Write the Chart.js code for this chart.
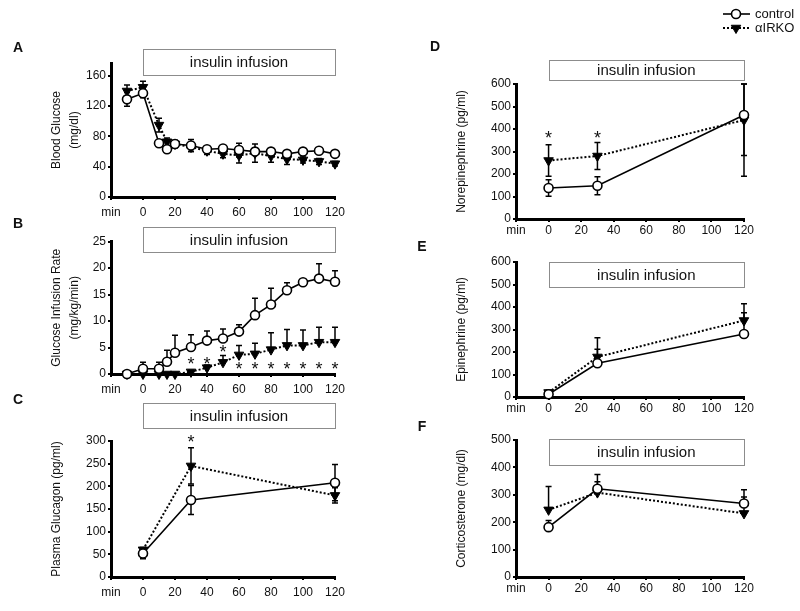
<!DOCTYPE html>
<html>
<head>
<meta charset="utf-8">
<script src="https://cdn.jsdelivr.net/npm/chart.js@4/dist/chart.umd.min.js"></script>
<style>
  body { margin: 0; background: #fff; width: 800px; height: 611px; position: relative; overflow: hidden; }
  canvas { position: absolute; }
</style>
</head>
<body>
<canvas id="pA" width="400" height="205" style="left:0;top:20px"></canvas>
<canvas id="pB" width="400" height="190" style="left:0;top:210px"></canvas>
<canvas id="pC" width="400" height="226" style="left:0;top:385px"></canvas>
<canvas id="pD" width="400" height="240" style="left:400px;top:0"></canvas>
<canvas id="pE" width="400" height="185" style="left:400px;top:235px"></canvas>
<canvas id="pF" width="400" height="196" style="left:400px;top:415px"></canvas>
<script>
// time points (min)
var clampTime = [-10, 0, 10, 15, 20, 30, 40, 50, 60, 70, 80, 90, 100, 110, 120];
var hormoneTime = [0, 30, 120];
var xTickVals = [-20, 0, 20, 40, 60, 80, 100, 120];

// A - blood glucose (mg/dl)
var glucoseCtrl = [129, 137, 71, 63, 70, 68, 63, 64, 62, 60, 60, 57, 60, 61, 57];
var glucoseCtrlErr = [9, 6, 3, 3, 4, 8, 3, 4, 9, 5, 3, 3, 3, 3, 3];
var glucoseKO = [140, 145, 95, 73, 70, 66, 61, 57, 55, 58, 54, 50, 49, 47, 44];
var glucoseKOErr = [8, 8, 9, 5, 5, 6, 5, 5, 10, 12, 8, 7, 4, 4, 3];
var glucoseTicks = [0, 40, 80, 120, 160];

// B - glucose infusion rate (mg/kg/min)
var girCtrl = [0, 1.0, 1.0, 2.3, 4.0, 5.1, 6.3, 6.7, 8.0, 11.1, 13.1, 15.8, 17.3, 18.0, 17.4];
var girCtrlErr = [0, 1.2, 1.2, 2.2, 3.3, 2.3, 1.8, 1.8, 1.3, 3.2, 3.1, 1.4, 0.3, 2.8, 2.1];
var girKO = [0, 0, 0, 0, 0, 0.4, 1.2, 2.2, 3.6, 3.8, 4.6, 5.4, 5.4, 6.0, 6.0];
var girKOErr = [0, 0, 0, 0, 0, 0.3, 0.5, 1.3, 1.8, 2.0, 3.2, 3.0, 2.9, 2.8, 2.8];
var girTicks = [0, 5, 10, 15, 20, 25];
var girStarX = [30, 40, 50, 60, 70, 80, 90, 100, 110, 120];
var girStarY = [2.6, 2.6, 4.9, 1.7, 1.7, 1.7, 1.7, 1.7, 1.7, 1.7];

// C - plasma glucagon (pg/ml)
var glucagonCtrl = [52, 170, 208];
var glucagonCtrlErr = [12, 32, 40];
var glucagonKO = [60, 245, 180];
var glucagonKOErr = [5, 40, 17];
var glucagonTicks = [0, 50, 100, 150, 200, 250, 300];
var glucagonStarX = [30];
var glucagonStarY = [306];

// D - norepinephrine (pg/ml)
var norepiCtrl = [138, 148, 462];
var norepiCtrlErr = [37, 40, 180];
var norepiKO = [260, 280, 440];
var norepiKOErr = [70, 60, 250];
var norepiStarX = [0, 30];
var norepiStarY = [378, 378];

// E - epinephrine (pg/ml)
var epiCtrl = [12, 150, 280];
var epiCtrlErr = [8, 62, 95];
var epiKO = [20, 178, 340];
var epiKOErr = [10, 85, 75];
var catTicks = [0, 100, 200, 300, 400, 500, 600];

// F - corticosterone (mg/dl)
var cortCtrl = [182, 322, 268];
var cortCtrlErr = [24, 52, 50];
var cortKO = [245, 308, 232];
var cortKOErr = [85, 40, 60];
var cortTicks = [0, 100, 200, 300, 400, 500];

var FONT = "'Liberation Sans', Arial, sans-serif";

function pts(xs, ys) {
  return xs.map(function (x, i) { return { x: x, y: ys[i] }; });
}

// error bars, "insulin infusion" box, panel letter, asterisks, legend
var deco = {
  id: 'deco',
  beforeDatasetsDraw: function (chart, args, o) {
    var ctx = chart.ctx, xs = chart.scales.x, ys = chart.scales.y;
    ctx.save();
    ctx.strokeStyle = '#000';
    ctx.lineWidth = 1.5;
    chart.data.datasets.forEach(function (ds) {
      ds.data.forEach(function (p, i) {
        var e = ds.err[i];
        if (!e) return;
        var px = xs.getPixelForValue(p.x);
        var top = ys.getPixelForValue(Math.min(p.y + e, ys.max));
        var bot = ys.getPixelForValue(o.errDir === 'up' ? p.y : Math.max(p.y - e, 0));
        ctx.beginPath();
        ctx.moveTo(px, bot); ctx.lineTo(px, top);
        ctx.moveTo(px - 3, top); ctx.lineTo(px + 3, top);
        if (o.errDir !== 'up') { ctx.moveTo(px - 3, bot); ctx.lineTo(px + 3, bot); }
        ctx.stroke();
      });
    });
    ctx.restore();
  },
  afterDraw: function (chart, args, o) {
    var ctx = chart.ctx, xs = chart.scales.x, ys = chart.scales.y, a = chart.chartArea;
    ctx.save();
    var b0 = xs.getPixelForValue(0), b1 = xs.getPixelForValue(120);
    var by = Math.round(a.top + o.boxOffset);
    ctx.fillStyle = '#fff';
    ctx.fillRect(b0, by, b1 - b0, o.boxHeight);
    ctx.strokeStyle = '#8c8c8c';
    ctx.lineWidth = 1;
    ctx.strokeRect(Math.round(b0) + 0.5, by + 0.5, Math.round(b1 - b0), o.boxHeight);
    ctx.fillStyle = '#111';
    ctx.font = '15px ' + FONT;
    ctx.textAlign = 'center';
    ctx.textBaseline = 'middle';
    ctx.fillText('insulin infusion', (b0 + b1) / 2, by + o.boxHeight / 2 + 1);

    ctx.font = 'bold 14px ' + FONT;
    ctx.fillText(o.letter, o.letterX, o.letterY);

    // asterisks: value marks the visual centre of the glyph
    ctx.font = '18px ' + FONT;
    ctx.textBaseline = 'alphabetic';
    (o.starX || []).forEach(function (sx, i) {
      ctx.fillText('*', xs.getPixelForValue(sx), ys.getPixelForValue(o.starY[i]) + 10);
    });

    if (o.legend) {
      ctx.font = '13px ' + FONT;
      ctx.textAlign = 'left';
      ctx.textBaseline = 'middle';
      chart.data.datasets.forEach(function (ds, i) {
        var ly = 14 + i * 14;
        ctx.strokeStyle = '#000';
        ctx.lineWidth = ds.borderWidth;
        ctx.setLineDash(ds.borderDash || []);
        ctx.beginPath(); ctx.moveTo(323, ly); ctx.lineTo(350, ly); ctx.stroke();
        ctx.setLineDash([]);
        ctx.fillStyle = ds.pointBackgroundColor;
        ctx.strokeStyle = '#000';
        ctx.lineWidth = ds.pointBorderWidth;
        Chart.helpers.drawPoint(ctx, { pointStyle: ds.pointStyle, rotation: ds.pointRotation || 0, radius: ds.pointRadius, borderWidth: ds.pointBorderWidth }, 336, ly);
        ctx.fillStyle = '#111';
        ctx.fillText(ds.label, 355, ly);
      });
    }
    ctx.restore();
  }
};

function panel(id, p) {
  return new Chart(document.getElementById(id), {
    type: 'line',
    data: {
      datasets: [
        {
          label: 'control',
          data: pts(p.time, p.ctrl),
          err: p.ctrlErr,
          borderColor: '#000',
          borderWidth: 1.6,
          pointStyle: 'circle',
          pointRadius: 4.5,
          pointBackgroundColor: '#fff',
          pointBorderColor: '#000',
          pointBorderWidth: 1.6,
          fill: false,
          clip: false
        },
        {
          label: '\u03b1IRKO',
          data: pts(p.time, p.ko),
          err: p.koErr,
          borderColor: '#000',
          borderWidth: 2,
          borderDash: [2, 2],
          pointStyle: 'triangle',
          pointRotation: 180,
          pointRadius: 5.5,
          pointBackgroundColor: '#000',
          pointBorderColor: '#000',
          pointBorderWidth: 1,
          fill: false,
          clip: false
        }
      ]
    },
    options: {
      responsive: false,
      animation: false,
      events: [],
      layout: { padding: p.pad },
      plugins: {
        legend: { display: false },
        tooltip: { enabled: false },
        deco: {
          errDir: p.errDir,
          boxOffset: p.boxOffset,
          boxHeight: p.boxHeight,
          letter: p.letter,
          letterX: p.letterX,
          letterY: p.letterY,
          starX: p.starX,
          starY: p.starY,
          legend: p.legend
        }
      },
      scales: {
        x: {
          type: 'linear',
          min: -20,
          max: 120,
          afterBuildTicks: function (s) { s.ticks = xTickVals.map(function (v) { return { value: v }; }); },
          afterFit: function (s) { s.height = 20; },
          ticks: {
            callback: function (v) { return v === -20 ? 'min' : v; },
            color: '#111',
            font: { size: 12, family: FONT },
            padding: p.xPad,
            maxRotation: 0,
            autoSkip: false
          },
          grid: { drawOnChartArea: false, color: '#000', lineWidth: 2, tickLength: 3 },
          border: { color: '#000', width: 3 }
        },
        y: {
          min: 0,
          max: p.yMax,
          afterBuildTicks: function (s) { s.ticks = p.yTicks.map(function (v) { return { value: v }; }); },
          afterFit: function (s) { s.width = 70; },
          ticks: {
            color: '#111',
            font: { size: 12, family: FONT },
            padding: 2
          },
          grid: { drawOnChartArea: false, color: '#000', lineWidth: 2, tickLength: 3 },
          border: { color: '#000', width: 3 },
          title: {
            display: true,
            text: p.yTitle,
            color: '#111',
            font: { size: 12, family: FONT, lineHeight: 1.5 },
            padding: { top: 7, bottom: 0 }
          }
        }
      }
    },
    plugins: [deco]
  });
}

panel('pA', {
  time: clampTime, ctrl: glucoseCtrl, ctrlErr: glucoseCtrlErr, ko: glucoseKO, koErr: glucoseKOErr,
  yMax: 177, yTicks: glucoseTicks, yTitle: ['Blood Glucose', '(mg/dl)'], errDir: 'both',
  pad: { top: 43, left: 41, right: 65, bottom: 8 }, xPad: 5,
  boxOffset: -14, boxHeight: 26, letter: 'A', letterX: 18, letterY: 28
});

panel('pB', {
  time: clampTime, ctrl: girCtrl, ctrlErr: girCtrlErr, ko: girKO, koErr: girKOErr,
  yMax: 25, yTicks: girTicks, yTitle: ['Glucose Infusion Rate', '(mg/kg/min)'], errDir: 'up',
  pad: { top: 31.5, left: 41, right: 65, bottom: 6 }, xPad: 5,
  boxOffset: -14.5, boxHeight: 25, letter: 'B', letterX: 18, letterY: 14,
  starX: girStarX, starY: girStarY
});

panel('pC', {
  time: hormoneTime, ctrl: glucagonCtrl, ctrlErr: glucagonCtrlErr, ko: glucagonKO, koErr: glucagonKOErr,
  yMax: 300, yTicks: glucagonTicks, yTitle: 'Plasma Glucagon (pg/ml)', errDir: 'both',
  pad: { top: 56, left: 41, right: 65, bottom: 14 }, xPad: 5,
  boxOffset: -38, boxHeight: 25, letter: 'C', letterX: 18, letterY: 15,
  starX: glucagonStarX, starY: glucagonStarY
});

panel('pD', {
  time: hormoneTime, ctrl: norepiCtrl, ctrlErr: norepiCtrlErr, ko: norepiKO, koErr: norepiKOErr,
  yMax: 600, yTicks: catTicks, yTitle: 'Norepinephrine (pg/ml)', errDir: 'both',
  pad: { top: 84, left: 46, right: 56, bottom: 1 }, xPad: 1,
  boxOffset: -24, boxHeight: 20, letter: 'D', letterX: 35, letterY: 47,
  starX: norepiStarX, starY: norepiStarY, legend: true
});

panel('pE', {
  time: hormoneTime, ctrl: epiCtrl, ctrlErr: epiCtrlErr, ko: epiKO, koErr: epiKOErr,
  yMax: 600, yTicks: catTicks, yTitle: 'Epinephrine (pg/ml)', errDir: 'up',
  pad: { top: 27, left: 46, right: 56, bottom: 3 }, xPad: 1,
  boxOffset: 0, boxHeight: 25, letter: 'E', letterX: 22, letterY: 12
});

panel('pF', {
  time: hormoneTime, ctrl: cortCtrl, ctrlErr: cortCtrlErr, ko: cortKO, koErr: cortKOErr,
  yMax: 500, yTicks: cortTicks, yTitle: 'Corticosterone (mg/dl)', errDir: 'up',
  pad: { top: 25, left: 46, right: 56, bottom: 14 }, xPad: 1,
  boxOffset: -1, boxHeight: 26, letter: 'F', letterX: 22, letterY: 12
});
</script>
</body>
</html>
